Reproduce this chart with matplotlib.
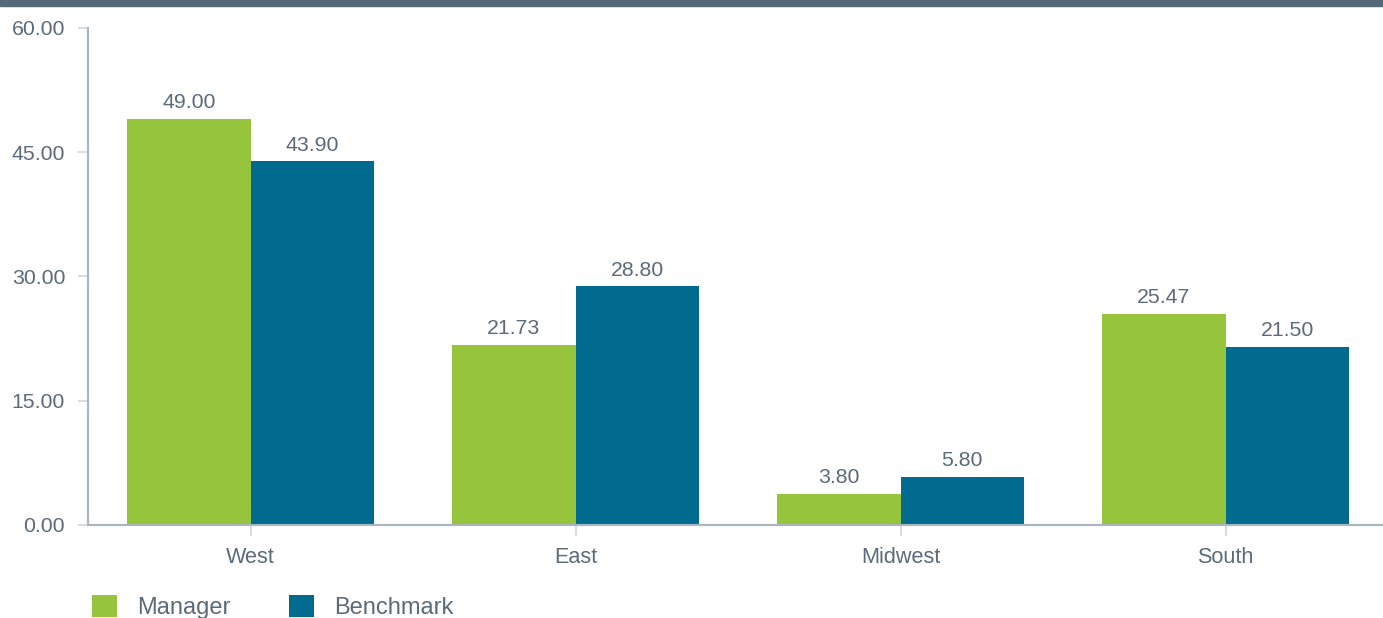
import numpy as np
import matplotlib.pyplot as plt
from matplotlib.patches import Rectangle

regions = ["West", "East", "Midwest", "South"]
manager = [49.00, 21.73, 3.80, 25.47]
benchmark = [43.90, 28.80, 5.80, 21.50]
yticks = [0, 15, 30, 45, 60]

green = "#96c43c"
blue = "#006a8f"
txt = "#5b6b7b"

plt.rcParams['font.family'] = ['Liberation Sans', 'DejaVu Sans']

W, H = 1383, 618
fig = plt.figure(figsize=(W / 100, H / 100), dpi=100)
# title band at the top (text cut off in the source)
fig.patches.append(Rectangle((0, 1 - 6 / H), 1, 6 / H, transform=fig.transFigure,
                             color="#566978", zorder=0))

ax = fig.add_axes([88 / W, (H - 525) / H, 1300 / W, 497 / H])
x = np.arange(len(regions))
bw = 0.38
b1 = ax.bar(x - bw / 2, manager, bw, color=green, label="Manager")
b2 = ax.bar(x + bw / 2, benchmark, bw, color=blue, label="Benchmark")
for bars in (b1, b2):
    for r in bars:
        ax.text(r.get_x() + r.get_width() / 2, r.get_height() + 0.8, "%.2f" % r.get_height(),
                ha="center", va="bottom", fontsize=15.3, color=txt)

ax.set_xlim(-0.5, 3.5)
ax.set_ylim(0, 60)
ax.set_yticks(yticks)
ax.set_yticklabels(["%.2f" % v for v in yticks])
ax.set_xticks(x)
ax.set_xticklabels(regions)
ax.tick_params(axis="y", length=7, width=1.5, color="#d8dde2", labelsize=15.3,
               labelcolor=txt, pad=9.5)
ax.tick_params(axis="x", length=8, width=1.5, color="#d8dde2", labelsize=15.6,
               labelcolor=txt, pad=8)
for s in ("top", "right"):
    ax.spines[s].set_visible(False)
ax.spines["left"].set_color("#a8b6c4")
ax.spines["left"].set_linewidth(1.5)
ax.spines["bottom"].set_color("#a8b6c4")
ax.spines["bottom"].set_linewidth(1.5)

ax.legend(loc="center left", bbox_to_anchor=(4 / 1300, (525 - 607) / 497),
          ncol=2, frameon=False, fontsize=17, labelcolor=txt, handlelength=1.05,
          handleheight=1.05, handletextpad=0.85, columnspacing=2.5, borderaxespad=0,
          borderpad=0)

fig.savefig("out.png", dpi=100)
